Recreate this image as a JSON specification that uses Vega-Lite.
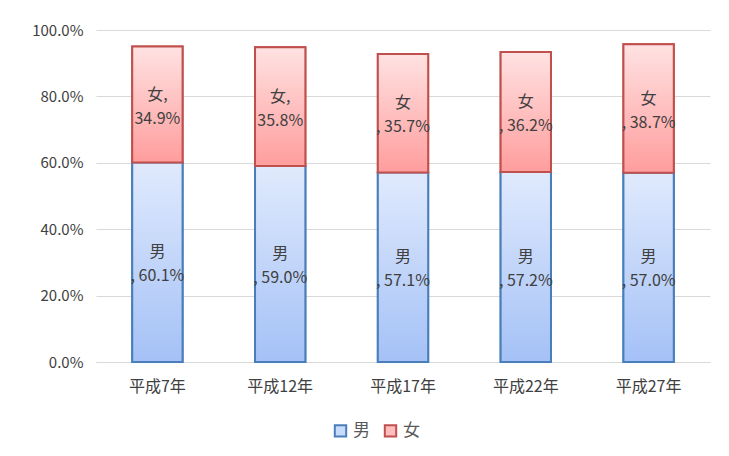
{
  "$schema": "https://vega.github.io/schema/vega-lite/v6.json",
  "width": 614,
  "height": 332,
  "autosize": {"type": "none"},
  "padding": {"left": 96, "top": 30, "right": 19, "bottom": 94},
  "config": {"font": "Noto Sans CJK JP", "view": {"stroke": null}},
  "data": {
    "values": [
      {"year": "平成7年", "sex": "男", "value": 0.601, "label": "男\n, 60.1%"},
      {"year": "平成7年", "sex": "女", "value": 0.349, "label": "女,\n34.9%"},
      {"year": "平成12年", "sex": "男", "value": 0.590, "label": "男\n, 59.0%"},
      {"year": "平成12年", "sex": "女", "value": 0.358, "label": "女,\n35.8%"},
      {"year": "平成17年", "sex": "男", "value": 0.571, "label": "男\n, 57.1%"},
      {"year": "平成17年", "sex": "女", "value": 0.357, "label": "女\n, 35.7%"},
      {"year": "平成22年", "sex": "男", "value": 0.572, "label": "男\n, 57.2%"},
      {"year": "平成22年", "sex": "女", "value": 0.362, "label": "女\n, 36.2%"},
      {"year": "平成27年", "sex": "男", "value": 0.570, "label": "男\n, 57.0%"},
      {"year": "平成27年", "sex": "女", "value": 0.387, "label": "女\n, 38.7%"}
    ]
  },
  "transform": [
    {"stack": "value", "groupby": ["year"], "sort": [{"field": "sex", "order": "descending"}], "as": ["y0", "y1"]},
    {"calculate": "(datum.y0 + datum.y1) / 2", "as": "mid"}
  ],
  "encoding": {
    "x": {
      "field": "year", "type": "nominal", "sort": null, "title": null,
      "scale": {"paddingInner": 0.59, "paddingOuter": 0.295},
      "axis": {"labelAngle": 0, "ticks": false, "domainColor": "#d9d9d9", "labelFontSize": 16, "labelColor": "#404040", "labelPadding": 16}
    }
  },
  "layer": [
    {
      "mark": {"type": "bar", "strokeWidth": 2},
      "encoding": {
        "y": {
          "field": "y0", "type": "quantitative", "title": null,
          "scale": {"domain": [0, 1]},
          "axis": {"format": ".1%", "values": [0, 0.2, 0.4, 0.6, 0.8, 1], "domain": false, "ticks": false, "gridColor": "#d9d9d9", "labelFontSize": 15, "labelColor": "#404040", "labelPadding": 13}
        },
        "y2": {"field": "y1"},
        "fill": {
          "field": "sex", "type": "nominal",
          "scale": {"domain": ["男", "女"], "range": ["#c9dbfa", "#ffbdbd"]},
          "legend": {"title": null, "orient": "none", "legendX": 236, "legendY": 392, "direction": "horizontal", "symbolType": "square", "symbolSize": 130, "symbolStrokeWidth": 2, "labelFontSize": 17, "labelColor": "#595959", "columnPadding": 10, "labelOffset": 4}
        },
        "stroke": {
          "field": "sex", "type": "nominal",
          "scale": {"domain": ["男", "女"], "range": ["#4a7ebb", "#c0504d"]},
          "legend": {"title": null, "orient": "none", "legendX": 236, "legendY": 392, "direction": "horizontal", "symbolType": "square", "symbolSize": 130, "symbolStrokeWidth": 2, "labelFontSize": 17, "labelColor": "#595959", "columnPadding": 10, "labelOffset": 4}
        }
      }
    },
    {
      "transform": [{"filter": "datum.sex == '男'"}],
      "mark": {
        "type": "bar", "stroke": "#4a7ebb", "strokeWidth": 2,
        "fill": {"gradient": "linear", "x1": 0, "y1": 0, "x2": 0, "y2": 1, "stops": [{"offset": 0, "color": "#e0eafd"}, {"offset": 1, "color": "#a4c1f6"}]}
      },
      "encoding": {
        "y": {"field": "y0", "type": "quantitative"},
        "y2": {"field": "y1"}
      }
    },
    {
      "transform": [{"filter": "datum.sex == '女'"}],
      "mark": {
        "type": "bar", "stroke": "#c0504d", "strokeWidth": 2,
        "fill": {"gradient": "linear", "x1": 0, "y1": 0, "x2": 0, "y2": 1, "stops": [{"offset": 0, "color": "#ffe2e2"}, {"offset": 1, "color": "#ff9d9d"}]}
      },
      "encoding": {
        "y": {"field": "y0", "type": "quantitative"},
        "y2": {"field": "y1"}
      }
    },
    {
      "mark": {"type": "text", "lineBreak": "\n", "fontSize": 16, "color": "#404040", "lineHeight": 24, "baseline": "middle", "dy": -10},
      "encoding": {
        "y": {"field": "mid", "type": "quantitative"},
        "text": {"field": "label", "type": "nominal"}
      }
    }
  ]
}
